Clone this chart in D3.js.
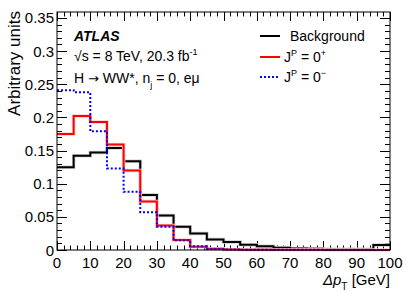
<!DOCTYPE html>
<html>
<head>
<meta charset="utf-8">
<script src="https://cdn.jsdelivr.net/npm/d3@7"></script>
<style>
body { margin: 0; background: #fff; }
text { font-family: "Liberation Sans", Arial, sans-serif; }
</style>
</head>
<body>
<svg width="407" height="292"></svg>
<script>
// bin lower edges (GeV), 5 GeV wide
var binEdges = [0, 5, 10, 15, 20, 25, 30, 35, 40, 45, 50, 55, 60, 65, 70, 75, 80, 85, 90, 95];
var background = [0.125, 0.142, 0.147, 0.154, 0.134, 0.083, 0.052, 0.035, 0.025, 0.016,
                  0.012, 0.008, 0.0056, 0.0035, 0.0022, 0.0018, 0.0012, 0.0011, 0.0010, 0.0076];
var spin0plus = [0.175, 0.202, 0.193, 0.159, 0.120, 0.073, 0.037, 0.015, 0.005, 0.0018,
                 0.0008, 0.0005, 0.0004, 0.0003, 0.0002, 0.0002, 0.0001, 0.0001, 0.0001, 0.0001];
var spin0minus = [0.241, 0.238, 0.179, 0.123, 0.088, 0.057, 0.035, 0.0147, 0.0056, 0.0016,
                  0.0008, 0.0005, 0.0004, 0.0003, 0.0002, 0.0002, 0.0001, 0.0001, 0.0001, 0.0001];
var xTicks = [0, 10, 20, 30, 40, 50, 60, 70, 80, 90, 100];
var yTicks = [0, 0.05, 0.1, 0.15, 0.2, 0.25, 0.3, 0.35];

var svg = d3.select('svg');
var padding = {t: 12, r: 17, b: 42, l: 57};
var chartWidth = 407 - padding.l - padding.r;
var chartHeight = 292 - padding.t - padding.b;

var x = d3.scaleLinear().domain([0, 100]).range([padding.l, padding.l + chartWidth]);
var y = d3.scaleLinear().domain([0, 0.359]).range([padding.t + chartHeight, padding.t]);

// ticks, ROOT style: inside the frame, mirrored on top and right
var ticksG = svg.append('g').attr('stroke', '#000').attr('stroke-width', 1);
d3.range(0, 100.01, 2).forEach(function(v) {
    var major = (v % 10 === 0);
    var len = major ? 9 : 4.5;
    var px = Math.round(x(v)) + 0.5;
    ticksG.append('line').attr('x1', px).attr('x2', px)
        .attr('y1', y(0)).attr('y2', y(0) - len);
    ticksG.append('line').attr('x1', px).attr('x2', px)
        .attr('y1', padding.t).attr('y2', padding.t + len);
});
d3.range(0, 36).forEach(function(i) {
    var v = i * 0.01;
    var major = (i % 5 === 0);
    var len = major ? 10 : 5;
    var py = Math.round(y(v)) + 0.5;
    ticksG.append('line').attr('x1', x(0)).attr('x2', x(0) + len)
        .attr('y1', py).attr('y2', py);
    ticksG.append('line').attr('x1', x(100)).attr('x2', x(100) - len)
        .attr('y1', py).attr('y2', py);
});

// tick labels
svg.append('g').selectAll('text').data(xTicks).enter().append('text')
    .attr('x', function(d) { return x(d); })
    .attr('y', 268)
    .attr('text-anchor', 'middle')
    .style('font-size', '15px')
    .text(function(d) { return d; });
svg.append('g').selectAll('text').data(yTicks).enter().append('text')
    .attr('x', padding.l - 3)
    .attr('y', function(d) { return y(d) + 5.5; })
    .attr('text-anchor', 'end')
    .style('font-size', '15px')
    .text(function(d) { return d; });

// histograms as step lines
function stepPoints(vals) {
    var pts = binEdges.map(function(e, i) { return [e, vals[i]]; });
    pts.push([100, vals[vals.length - 1]]);
    return pts;
}
var line = d3.line()
    .x(function(d) { return x(d[0]); })
    .y(function(d) { return y(d[1]); })
    .curve(d3.curveStepAfter);

var hists = svg.append('g');
hists.append('path').datum(stepPoints(background))
    .attr('fill', 'none').attr('stroke', '#d0d0d0').attr('stroke-width', 3.5).attr('d', line);
hists.append('path').datum(stepPoints(background))
    .attr('fill', 'none').attr('stroke', '#000').attr('stroke-width', 2).attr('d', line);
hists.append('path').datum(stepPoints(spin0plus))
    .attr('fill', 'none').attr('stroke', '#ffd0d0').attr('stroke-width', 3.5).attr('d', line);
hists.append('path').datum(stepPoints(spin0plus))
    .attr('fill', 'none').attr('stroke', '#ff0000').attr('stroke-width', 2).attr('d', line);
hists.append('path').datum(stepPoints(spin0minus))
    .attr('fill', 'none').attr('stroke', '#0000ff').attr('stroke-width', 2)
    .attr('stroke-dasharray', '2,2').attr('d', line);

// frame
svg.append('rect')
    .attr('x', x(0)).attr('y', padding.t)
    .attr('width', chartWidth).attr('height', chartHeight)
    .attr('fill', 'none').attr('stroke', '#000').attr('stroke-width', 1);

// axis titles
svg.append('text')
    .attr('transform', 'translate(20,' + (padding.t - 1) + ') rotate(-90)')
    .attr('text-anchor', 'end')
    .style('font-size', '17px')
    .text('Arbitrary units');
var xt = svg.append('text')
    .attr('x', x(100)).attr('y', 285)
    .attr('text-anchor', 'end')
    .style('font-size', '15px');
xt.append('tspan').style('font-style', 'italic').text('\u0394p');
xt.append('tspan').attr('dy', 5).style('font-size', '10px').text('T');
xt.append('tspan').attr('dy', -5).text(' [GeV]');

// labels
svg.append('text').attr('x', 74).attr('y', 41)
    .style('font-size', '14px').style('font-weight', 'bold').style('font-style', 'italic')
    .text('ATLAS');
var s = svg.append('text').attr('x', 74).attr('y', 61).style('font-size', '14px');
s.append('tspan').text('\u221As = 8 TeV, 20.3 fb');
s.append('tspan').attr('dy', -6).style('font-size', '9px').text('-1');
var h = svg.append('text').attr('x', 74).attr('y', 83).style('font-size', '14px');
h.append('tspan').text('H ');
h.append('tspan').style('font-family', 'DejaVu Sans').style('font-size', '13px').text('\u2192');
h.append('tspan').text(' WW*, n');
h.append('tspan').attr('dy', 5).style('font-size', '9px').text('j');
h.append('tspan').attr('dy', -5).text(' = 0, e\u03BC');

// legend
var legend = [
    {label: 'Background', color: '#000', dash: null},
    {label: '0+', color: '#ff0000', dash: null},
    {label: '0\u2212', color: '#0000ff', dash: '2,2'}
];
var legendY = [36, 57, 77];
legend.forEach(function(d, i) {
    svg.append('line')
        .attr('x1', 260).attr('x2', 280)
        .attr('y1', legendY[i]).attr('y2', legendY[i])
        .attr('stroke', d.color).attr('stroke-width', 2)
        .attr('stroke-dasharray', d.dash);
    var t = svg.append('text').attr('y', legendY[i] + 5).style('font-size', '14px');
    if (i === 0) {
        t.attr('x', 290).text(d.label);
    } else {
        t.attr('x', 284);
        t.append('tspan').text('J');
        t.append('tspan').attr('dy', -6).style('font-size', '9px').text('P');
        t.append('tspan').attr('dy', 6).text(' = ' + d.label.charAt(0));
        t.append('tspan').attr('dy', -6).style('font-size', '9px').text(d.label.slice(1));
    }
});
</script>
</body>
</html>
